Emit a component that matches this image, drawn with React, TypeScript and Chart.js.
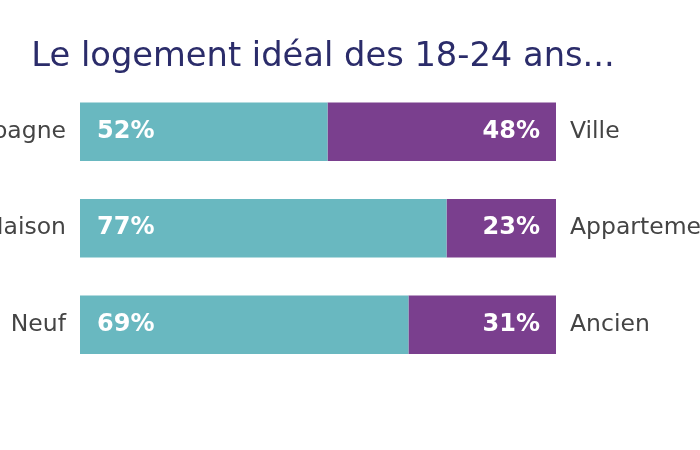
import React, { useEffect, useRef } from "react";
import { Chart, registerables } from "chart.js";

Chart.register(...registerables);

const titleText = "Le logement idéal des 18-24 ans...";
const leftLabels = ["Campagne", "Maison", "Neuf"];
const rightLabels = ["Ville", "Appartement", "Ancien"];
const leftValues = [52, 77, 69];
const rightValues = [48, 23, 31];

const TEAL = "#69b8c0";
const PURPLE = "#7a3f8e";
const TITLE_COLOR = "#2b2c6a";
const LABEL_COLOR = "#444444";

const CANVAS_W = 846;
const CANVAS_H = 450;

const pctLabels = {
  id: "pctLabels",
  afterDatasetsDraw(chart: any) {
    const ctx = chart.ctx;
    chart.data.datasets.forEach((ds: any, di: number) => {
      const meta = chart.getDatasetMeta(di);
      meta.data.forEach((bar: any, i: number) => {
        const p = bar.getProps(["x", "y", "base"], true);
        ctx.save();
        ctx.font = 'bold 24px "DejaVu Sans"';
        ctx.fillStyle = "#ffffff";
        ctx.textBaseline = "middle";
        const txt = `${ds.data[i]}%`;
        if (di === 0) {
          ctx.textAlign = "left";
          ctx.fillText(txt, p.base + 17, p.y);
        } else {
          ctx.textAlign = "right";
          ctx.fillText(txt, p.x - 16, p.y);
        }
        ctx.restore();
      });
    });
  },
};

export default function App() {
  const ref = useRef<HTMLCanvasElement | null>(null);

  useEffect(() => {
    if (!ref.current) return;
    const chart = new Chart(ref.current, {
      type: "bar",
      data: {
        labels: leftLabels,
        datasets: [
          {
            label: "left",
            data: leftValues,
            backgroundColor: TEAL,
            borderWidth: 0,
            barPercentage: 1,
            categoryPercentage: 0.607,
            yAxisID: "y",
          },
          {
            label: "right",
            data: rightValues,
            backgroundColor: PURPLE,
            borderWidth: 0,
            barPercentage: 1,
            categoryPercentage: 0.607,
            yAxisID: "y",
          },
        ],
      },
      options: {
        indexAxis: "y",
        responsive: false,
        animation: false,
        layout: { padding: { left: 0, right: 0, top: 0, bottom: 77 } },
        plugins: {
          legend: { display: false },
          tooltip: { enabled: false },
          title: {
            display: true,
            text: titleText,
            color: TITLE_COLOR,
            font: { family: "'DejaVu Sans'", size: 33.7, weight: "normal", lineHeight: 1.2 },
            padding: { top: 37, bottom: 6 },
          },
        },
        scales: {
          x: {
            stacked: true,
            min: 0,
            max: 100,
            display: false,
          },
          y: {
            type: "category",
            stacked: true,
            position: "left",
            offset: true,
            grid: { display: false, drawTicks: false },
            border: { display: false },
            ticks: {
              color: LABEL_COLOR,
              padding: 14,
              font: { family: "'DejaVu Sans'", size: 23.5 },
            },
            afterFit: (scale: any) => {
              scale.width = 180;
            },
          },
          y2: {
            type: "category",
            labels: rightLabels,
            position: "right",
            offset: true,
            grid: { display: false, drawTicks: false },
            border: { display: false },
            ticks: {
              color: LABEL_COLOR,
              padding: 14,
              font: { family: "'DejaVu Sans'", size: 23.5 },
            },
            afterFit: (scale: any) => {
              scale.width = 190;
            },
          },
        },
      } as any,
      plugins: [pctLabels],
    });
    return () => chart.destroy();
  }, []);

  return (
    <div
      style={{
        position: "fixed",
        left: 0,
        top: 0,
        width: 700,
        height: 450,
        overflow: "hidden",
        background: "#ffffff",
      }}
    >
      <canvas
        ref={ref}
        width={CANVAS_W}
        height={CANVAS_H}
        style={{ position: "absolute", left: -100, top: 0, width: CANVAS_W, height: CANVAS_H }}
      />
    </div>
  );
}
